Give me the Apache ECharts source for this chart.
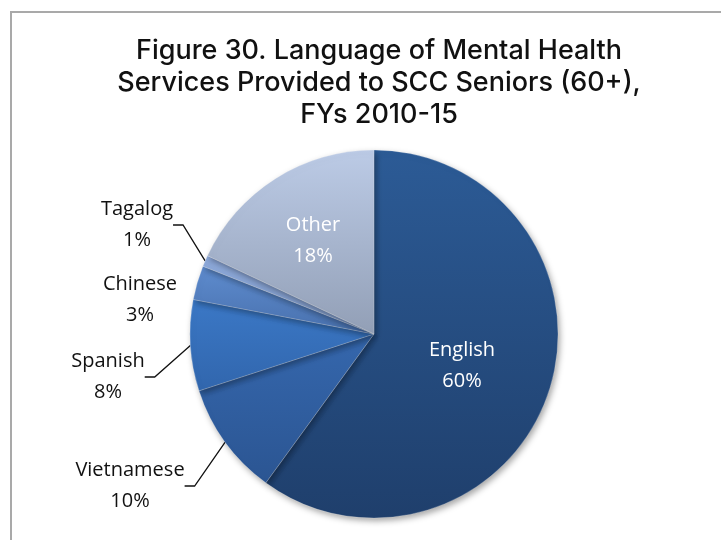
<!DOCTYPE html>
<html>
<head>
<meta charset="utf-8">
<script src="https://cdn.jsdelivr.net/npm/echarts@6/dist/echarts.min.js"></script>
<style>
  html, body { margin: 0; padding: 0; background: #fff; }
  #chart { width: 721px; height: 540px; }
</style>
</head>
<body>
<div id="chart"></div>
<script>
// Language shares (%), clockwise from 12 o'clock
const languages = ['English', 'Vietnamese', 'Spanish', 'Chinese', 'Tagalog', 'Other'];
const shares = [60, 10, 8, 3, 1, 18];

// Vertical gradient for each slice: [top colour, bottom colour]
const sliceShades = [
  ['#2c5b96', '#1f3f6c'],
  ['#3567ad', '#2b5592'],
  ['#3b78c6', '#3166ad'],
  ['#5e8ccf', '#4870ad'],
  ['#8eaadb', '#7d97c4'],
  ['#bccbe6', '#929fb6']
];

// Where each label sits (text centre) and whether it is inside the slice
const labelSpots = {
  English:    { x: 462, y: 366, inside: true },
  Other:      { x: 313, y: 241, inside: true },
  Tagalog:    { x: 137, y: 225 },
  Chinese:    { x: 140, y: 300 },
  Spanish:    { x: 108, y: 377 },
  Vietnamese: { x: 130, y: 486 }
};

const chart = echarts.init(document.getElementById('chart'));

const pieData = languages.map((name, i) => {
  const spot = labelSpots[name];
  return {
    name,
    value: shares[i],
    itemStyle: {
      color: new echarts.graphic.LinearGradient(0, 0, 0, 1, [
        { offset: 0, color: sliceShades[i][0] },
        { offset: 1, color: sliceShades[i][1] }
      ])
    },
    label: spot.inside ? { color: '#ffffff' } : { color: '#111111' },
    labelLine: { show: !spot.inside && name !== 'Chinese' }
  };
});

chart.setOption({
  animation: false,
  title: {
    text: 'Figure 30. Language of Mental Health\nServices Provided to SCC Seniors (60+),\nFYs 2010-15',
    left: 374,
    textAlign: 'center',
    top: 30,
    textStyle: {
      fontFamily: 'Inter',
      fontSize: 27,
      fontWeight: 500,
      color: '#111111',
      lineHeight: 32
    }
  },
  graphic: [{
    type: 'rect',
    shape: { x: 11, y: 12, width: 730, height: 560 },
    style: { fill: 'none', stroke: '#a9a9a9', lineWidth: 2 },
    silent: true
  }],
  series: [{
    type: 'pie',
    center: [374, 334],
    radius: 184,
    startAngle: 90,
    clockwise: true,
    data: pieData,
    itemStyle: {
      borderColor: 'rgba(255,255,255,0.35)',
      borderWidth: 0.6,
      shadowBlur: 6,
      shadowOffsetX: 2,
      shadowOffsetY: 3,
      shadowColor: 'rgba(0,0,0,0.35)'
    },
    label: {
      show: true,
      formatter: '{b}\n{c}%',
      fontFamily: 'Open Sans',
      fontSize: 20,
      lineHeight: 31,
      align: 'center'
    },
    labelLine: {
      show: true,
      length: 15,
      length2: 10,
      lineStyle: { color: '#111111', width: 1.3 }
    },
    labelLayout: function (params) {
      const spot = labelSpots[languages[params.dataIndex]];
      return { x: spot.x, y: spot.y, align: 'center', verticalAlign: 'middle', hideOverlap: false, moveOverlap: false };
    }
  }]
});
</script>
</body>
</html>
